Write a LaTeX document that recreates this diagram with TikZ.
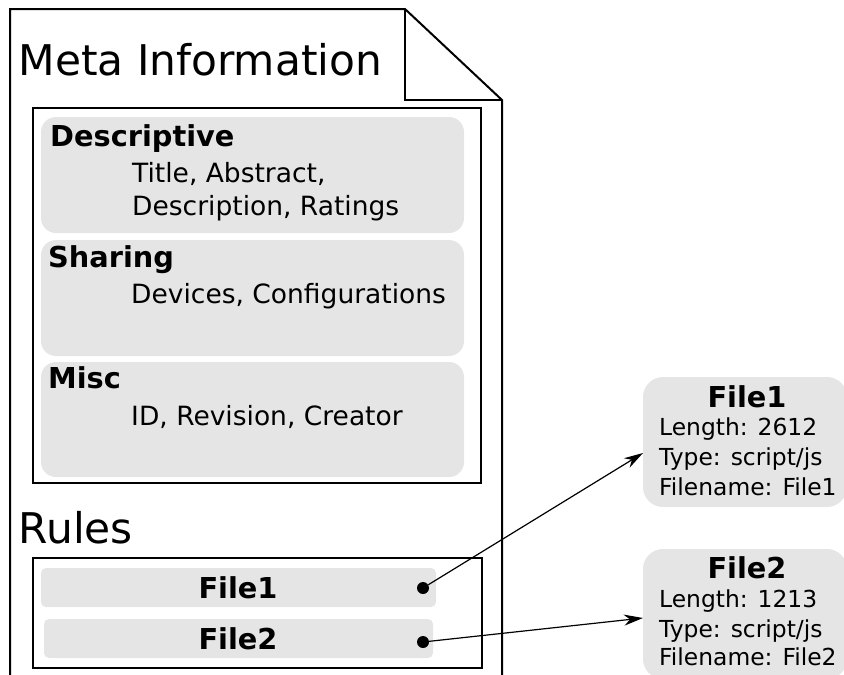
\documentclass[tikz,border=0pt]{standalone}
\usepackage{fontspec}
\setmainfont{DejaVu Sans}
\usetikzlibrary{arrows.meta}
\definecolor{boxgrey}{HTML}{E5E5E5}
\tikzset{
  frame/.style={draw=black, line width=2pt, inner sep=0pt, outer sep=0pt},
  greybox/.style={fill=boxgrey, draw=none, rounded corners=15pt, inner sep=0pt, outer sep=0pt},
  barbox/.style={fill=boxgrey, draw=none, rounded corners=5pt, inner sep=0pt, outer sep=0pt},
  infobox/.style={fill=boxgrey, draw=none, rounded corners=20pt, inner sep=0pt, outer sep=0pt, minimum width=204pt, minimum height=130pt},
  bigtxt/.style={inner sep=0pt, anchor=base west, font=\fontsize{42.3}{50}\selectfont},
  headtxt/.style={inner sep=0pt, anchor=base west, font=\fontsize{28.8}{33}\selectfont\bfseries},
  bodytxt/.style={inner sep=0pt, anchor=base west, font=\fontsize{26.5}{33}\selectfont},
  infohead/.style={inner sep=0pt, anchor=base, font=\fontsize{28.8}{33}\selectfont\bfseries},
  infotxt/.style={inner sep=0pt, anchor=base west, font=\fontsize{23.4}{30}\selectfont},
  dot/.style={circle, fill=black, inner sep=0pt, minimum size=12pt},
  arr/.style={draw=black, line width=1.2pt, -{Stealth[length=19pt,width=11pt,inset=6pt]}}
}
\begin{document}
\begin{tikzpicture}[x=1pt, y=-1pt]
\useasboundingbox (0,0) rectangle (844,675);
% page outline with folded corner
\draw[line width=2pt, line join=miter] (10,678) -- (10,9) -- (405,9) -- (502,100) -- (502,678);
\draw[line width=2pt] (405,9) -- (405,100) -- (502,100);
\node[bigtxt] (meta) at (18.5,75) {Meta Information};
% meta frame
\node[frame, minimum width=448pt, minimum height=375pt] (metaframe) at (257,295.5) {};
% grey groups
\node[greybox, minimum width=423pt, minimum height=116pt] (descbox) at (252.5,175) {};
\node[greybox, minimum width=423pt, minimum height=116pt] (sharebox) at (252.5,298) {};
\node[greybox, minimum width=423pt, minimum height=115pt] (miscbox) at (252.5,419.5) {};
\node[headtxt] (deschead) at (50,146) {Descriptive};
\node[bodytxt] (desc1) at (132,182) {Title, Abstract,};
\node[bodytxt] (desc2) at (132,215) {Description, Ratings};
\node[headtxt] (sharehead) at (48,267) {Sharing};
\node[bodytxt] (share1) at (131,303) {Devices, Configurations};
\node[headtxt] (mischead) at (48,388) {Misc};
\node[bodytxt] (misc1) at (131,425) {ID, Revision, Creator};
% rules
\node[bigtxt] (rules) at (18.5,543) {Rules};
\node[frame, minimum width=449pt, minimum height=110pt] (rulesframe) at (257.5,613) {};
\node[barbox, minimum width=395pt, minimum height=39pt] (bar1) at (238.5,587.5) {};
\node[barbox, minimum width=389pt, minimum height=39pt] (bar2) at (238.5,638.5) {};
\node[infohead] (bar1txt) at (238,598) {File1};
\node[infohead] (bar2txt) at (238,649) {File2};
\node[dot] (d1) at (423,588) {};
\node[dot] (d2) at (423,642) {};
% info boxes
\node[infobox] (info1) at (745,442) {};
\node[infobox] (info2) at (745,614) {};
\node[infohead] (i1h) at (747,407) {File1};
\node[infotxt] (i1a) at (659,435) {Length: 2612};
\node[infotxt] (i1b) at (659,465) {Type: script/js};
\node[infotxt] (i1c) at (659,495) {Filename: File1};
\node[infohead] (i2h) at (747,578) {File2};
\node[infotxt] (i2a) at (659,607) {Length: 1213};
\node[infotxt] (i2b) at (659,637) {Type: script/js};
\node[infotxt] (i2c) at (659,665) {Filename: File2};
% connectors
\draw[arr] (d1) -- ([yshift=-11pt]info1.west);
\draw[arr] (d2) -- ([yshift=-4pt]info2.west);
\end{tikzpicture}
\end{document}
